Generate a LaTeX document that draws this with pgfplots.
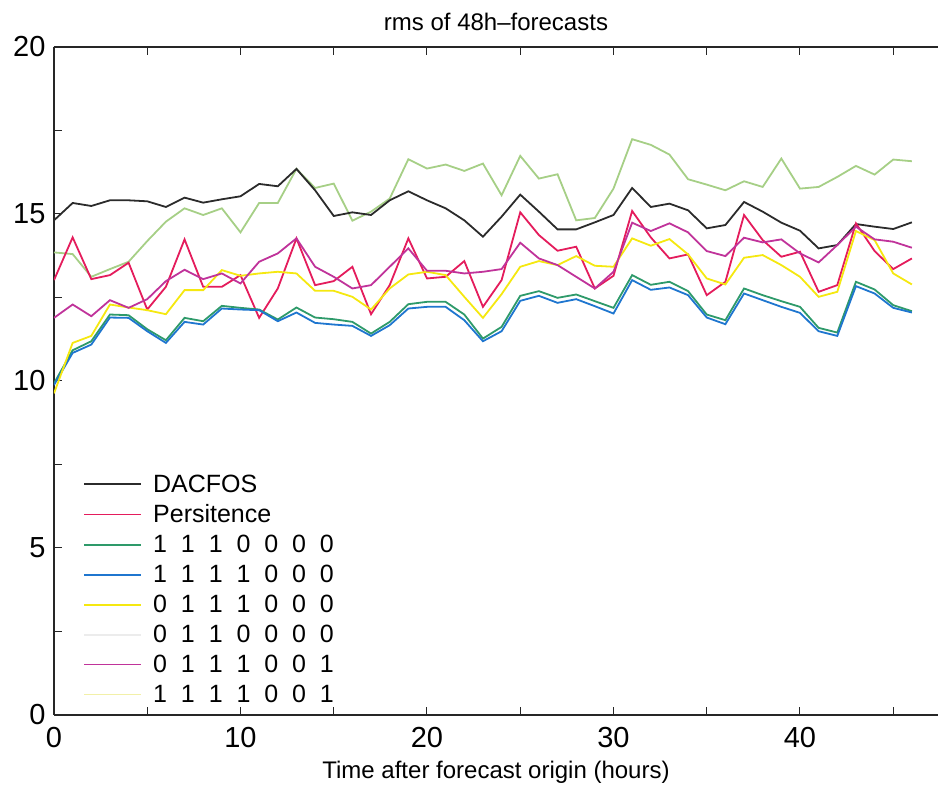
\documentclass[border=0pt]{standalone}
\usepackage{fontspec}
\setmainfont{Liberation Sans}
\usepackage{pgfplots}
\usepackage{pgfplotstable}
\pgfplotsset{compat=1.18}
\definecolor{cblack}{HTML}{2B2B2B}
\definecolor{cred}{HTML}{E41C5C}
\definecolor{cgreen}{HTML}{2E9A6A}
\definecolor{cblue}{HTML}{1F76CF}
\definecolor{cyellow}{HTML}{F5E810}
\definecolor{clgreen}{HTML}{A6CF86}
\definecolor{cmag}{HTML}{C0339A}
\definecolor{cpale}{HTML}{F2F0A8}
\definecolor{cfaint}{HTML}{ECECEC}
\pgfplotstableread{
x black red green blue yellow lgreen mag
0 14.81 13.02 9.93 9.88 9.63 13.85 11.89
1 15.33 14.30 10.92 10.84 11.14 13.80 12.29
2 15.24 13.05 11.19 11.09 11.35 13.12 11.94
3 15.41 13.17 11.99 11.90 12.29 13.35 12.42
4 15.41 13.54 11.97 11.89 12.20 13.57 12.19
5 15.38 12.14 11.55 11.49 12.12 14.19 12.45
6 15.21 12.82 11.22 11.14 12.00 14.77 12.99
7 15.49 14.24 11.89 11.77 12.72 15.17 13.33
8 15.34 12.82 11.79 11.69 12.72 14.97 13.05
9 15.44 12.82 12.25 12.17 13.32 15.17 13.22
10 15.53 13.17 12.19 12.14 13.15 14.45 12.92
11 15.90 11.89 12.14 12.12 13.22 15.33 13.57
12 15.83 12.77 11.84 11.79 13.27 15.33 13.82
13 16.35 14.27 12.20 12.05 13.22 16.35 14.27
14 15.71 12.87 11.90 11.74 12.70 15.78 13.42
15 14.94 12.99 11.85 11.69 12.70 15.91 13.12
16 15.05 13.42 11.77 11.65 12.52 14.80 12.77
17 14.97 12.00 11.42 11.35 12.14 15.07 12.87
18 15.41 12.87 11.77 11.67 12.77 15.46 13.42
19 15.68 14.27 12.30 12.17 13.19 16.64 13.97
20 15.41 13.07 12.37 12.22 13.27 16.36 13.30
21 15.17 13.12 12.37 12.22 13.17 16.48 13.30
22 14.81 13.59 11.99 11.82 12.52 16.29 13.22
23 14.32 12.22 11.27 11.19 11.89 16.51 13.27
24 14.92 13.02 11.62 11.49 12.60 15.56 13.35
25 15.58 15.05 12.55 12.40 13.42 16.74 14.14
26 15.07 14.37 12.69 12.55 13.59 16.06 13.67
27 14.54 13.90 12.49 12.34 13.47 16.19 13.47
28 14.54 14.02 12.59 12.45 13.74 14.81 13.12
29 14.75 12.77 12.39 12.24 13.45 14.88 12.77
30 14.97 13.15 12.19 12.02 13.42 15.76 13.27
31 15.78 15.09 13.17 13.02 14.27 17.24 14.74
32 15.21 14.30 12.88 12.73 14.05 17.07 14.49
33 15.31 13.67 12.97 12.80 14.25 16.78 14.72
34 15.11 13.79 12.69 12.57 13.79 16.04 14.45
35 14.57 12.57 11.99 11.90 13.07 15.88 13.89
36 14.67 12.97 11.82 11.70 12.89 15.71 13.74
37 15.36 14.97 12.77 12.62 13.69 15.98 14.29
38 15.07 14.22 12.57 12.42 13.77 15.81 14.15
39 14.74 13.72 12.39 12.22 13.47 16.66 14.24
40 14.50 13.87 12.22 12.04 13.12 15.76 13.82
41 13.97 12.67 11.59 11.49 12.52 15.81 13.55
42 14.07 12.87 11.45 11.35 12.67 16.11 14.07
43 14.70 14.72 12.97 12.84 14.49 16.44 14.62
44 14.62 13.89 12.74 12.62 14.22 16.18 14.24
45 14.55 13.35 12.27 12.19 13.22 16.63 14.17
46 14.75 13.67 12.09 12.05 12.89 16.58 13.99
}\data
\begin{document}
\begin{tikzpicture}
\begin{axis}[
  scale only axis,
  width=884pt, height=668pt,
  xmin=0, xmax=47.4, ymin=0, ymax=20,
  axis x line*=box, axis y line*=left,
  axis line style={line width=1.3pt, black!85},
  xtick={0,10,20,30,40}, minor xtick={5,15,25,35,45},
  ytick={0,5,10,15,20}, minor ytick={2.5,7.5,12.5,17.5},
  major tick length=8pt, minor tick length=8pt,
  tick style={line width=1pt, black!85},
  /pgf/number format/assume math mode=true,
  tick label style={font=\fontsize{29}{34}\selectfont},
  xticklabel style={yshift=-9pt},
  yticklabel style={xshift=-5pt},
  title={rms of 48h–forecasts},
  title style={font=\fontsize{24}{29}\selectfont, at={(0.5,1)}, anchor=south, yshift=7pt},
  xlabel={Time after forecast origin (hours)},
  xlabel style={font=\fontsize{24}{29}\selectfont, yshift=-6pt},
  legend style={at={(0.033,0.363)}, anchor=north west, draw=none, fill=none,
    font=\fontsize{25}{30}\selectfont, row sep=7pt, inner sep=0pt},
  legend cell align=left,
  legend image code/.code={\draw[#1] (0pt,0pt) -- (57pt,0pt); \path (66pt,0pt);},
  every axis plot/.append style={line width=1.8pt},
]
\addplot[clgreen, forget plot] table[x=x,y=lgreen] {\data};
\addplot[cblack] table[x=x,y=black] {\data};
\addlegendentry{DACFOS}
\addplot[cred] table[x=x,y=red] {\data};
\addlegendentry{Persitence}
\addplot[cgreen] table[x=x,y=green] {\data};
\addlegendentry{1~~1~~1~~0~~0~~0~~0}
\addplot[cblue] table[x=x,y=blue] {\data};
\addlegendentry{1~~1~~1~~1~~0~~0~~0}
\addplot[cyellow] table[x=x,y=yellow] {\data};
\addlegendentry{0~~1~~1~~1~~0~~0~~0}
\addlegendimage{cfaint, line width=1.8pt}
\addlegendentry{0~~1~~1~~0~~0~~0~~0}
\addplot[cmag] table[x=x,y=mag] {\data};
\addlegendentry{0~~1~~1~~1~~0~~0~~1}
\addlegendimage{cpale, line width=1.8pt}
\addlegendentry{1~~1~~1~~1~~0~~0~~1}
\end{axis}
\pgfresetboundingbox
\path (-54pt,-70pt) rectangle (884pt,715pt);
\end{tikzpicture}
\end{document}
